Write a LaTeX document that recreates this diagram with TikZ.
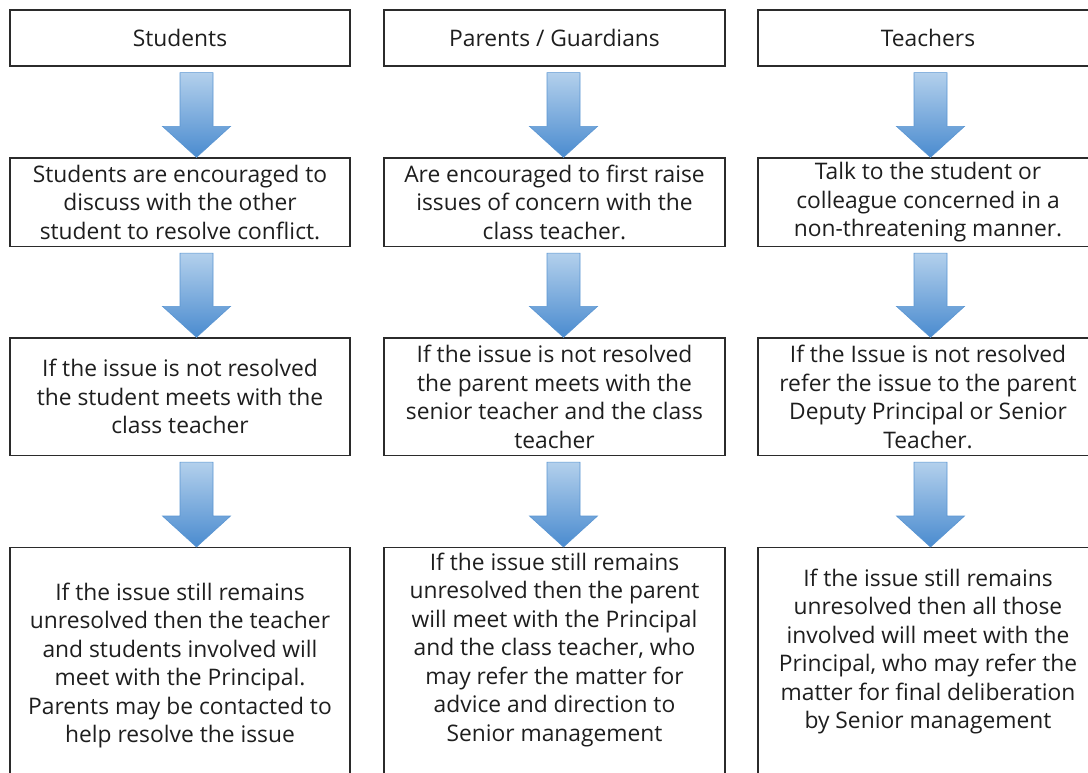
\documentclass[tikz,border=0pt]{standalone}
\usepackage{fontspec}
\setmainfont{Open Sans}
\usetikzlibrary{calc}
\definecolor{boxcol}{HTML}{2B2B2B}
\definecolor{txtcol}{HTML}{1E1E1E}
\definecolor{arrtop}{HTML}{B3D0EC}
\definecolor{arrbot}{HTML}{4A8BCF}
\definecolor{arredge}{HTML}{5A95D2}
\newcommand\boxfont{\fontsize{22.8}{28.5}\selectfont}
\newcommand\topbox[2]{\parbox[c][260pt][t]{340pt}{\centering\vspace*{#1}#2\par}}
\newcommand\flowarrow[3]{%
  \path[flowarr] let \p1=(#1.south), \p2=(#2.north) in
    (#3pt-16.5pt,\y1-6pt) -- (#3pt+16.5pt,\y1-6pt) -- (#3pt+16.5pt,\y2+31pt)
    -- (#3pt+34pt,\y2+31pt) -- (#3pt,\y2) -- (#3pt-34pt,\y2+31pt)
    -- (#3pt-16.5pt,\y2+31pt) -- cycle;}
\tikzset{
  box/.style={draw=boxcol, line width=1.3pt, rectangle, align=center,
    text=txtcol, font=\boxfont, inner sep=0pt, minimum width=340pt},
  flowarr/.style={top color=arrtop, bottom color=arrbot, draw=arredge, line width=0.6pt}
}
\begin{document}
\begin{tikzpicture}[x=1pt,y=-1pt]
\useasboundingbox (0,0) rectangle (1088,772);
\clip (0,0) rectangle (1088,772);
% column 1
\node[box, minimum height=56pt] (s1) at (180,38) {Students};
\node[box, minimum height=88.5pt] (s2) at (180,202.25) {Students are encouraged to\\discuss with the other\\student to resolve conflict.};
\node[box, minimum height=117.5pt] (s3) at (180,396.75) {If the issue is not resolved\\the student meets with the\\class teacher};
\node[box, anchor=north] (s4) at (180,547) {\topbox{35pt}{If the issue still remains\\unresolved then the teacher\\and students involved will\\meet with the Principal.\\Parents may be contacted to\\help resolve the issue}};
% column 2
\node[box, minimum height=56pt, minimum width=341pt] (p1) at (554.5,38) {Parents / Guardians};
\node[box, minimum height=88.5pt, minimum width=341pt] (p2) at (554.5,202.25) {Are encouraged to first raise\\issues of concern with the\\class teacher.};
\node[box, minimum height=117.5pt, minimum width=341pt] (p3) at (554.5,396.75) {If the issue is not resolved\\the parent meets with the\\senior teacher and the class\\teacher};
\node[box, anchor=north, minimum width=341pt] (p4) at (554.5,547) {\topbox{5pt}{If the issue still remains\\unresolved then the parent\\will meet with the Principal\\and the class teacher, who\\may refer the matter for\\advice and direction to\\Senior management}};
% column 3
\node[box, minimum height=56pt] (t1) at (928,38) {Teachers};
\node[box, minimum height=88.5pt] (t2) at (928,202.25) {Talk to the student or\\colleague concerned in a\\non-threatening manner.};
\node[box, minimum height=117.5pt] (t3) at (928,396.75) {If the Issue is not resolved\\refer the issue to the parent\\Deputy Principal or Senior\\Teacher.};
\node[box, anchor=north] (t4) at (928,547) {\topbox{21pt}{If the issue still remains\\unresolved then all those\\involved will meet with the\\Principal, who may refer the\\matter for final deliberation\\by Senior management}};
% arrows
\flowarrow{s1}{s2}{196.5}
\flowarrow{s2}{s3}{196.5}
\flowarrow{s3}{s4}{196.5}
\flowarrow{p1}{p2}{563.5}
\flowarrow{p2}{p3}{563.5}
\flowarrow{p3}{p4}{563.5}
\flowarrow{t1}{t2}{930.5}
\flowarrow{t2}{t3}{930.5}
\flowarrow{t3}{t4}{930.5}
\end{tikzpicture}
\end{document}
